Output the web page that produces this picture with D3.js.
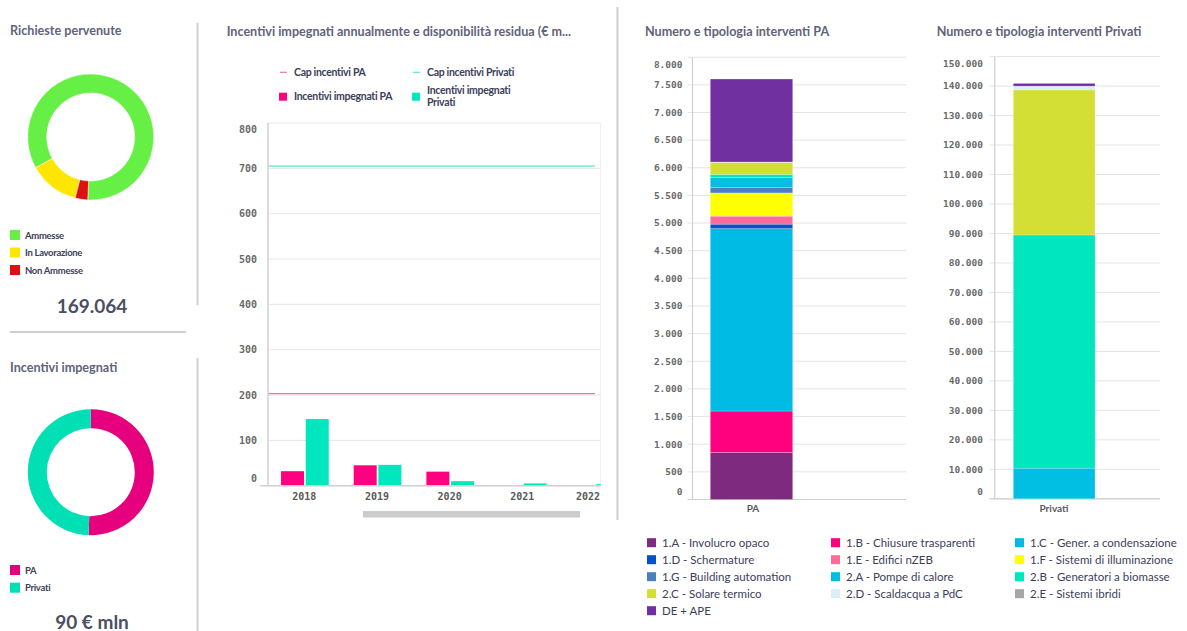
<!DOCTYPE html>
<html><head><meta charset="utf-8">
<script src="https://cdn.jsdelivr.net/npm/d3@7"></script>
<style>
html,body{margin:0;padding:0;background:#fff;}
text{font-family:Lato,"Open Sans",sans-serif;}
.mono{font-family:"DejaVu Sans Mono",monospace;font-weight:bold;}
</style></head>
<body><svg id="c" width="1187" height="631"></svg>
<script>
// ---------- DATA ----------
const richiesteLabels = ["Ammesse", "In Lavorazione", "Non Ammesse"];
const richiesteValues = [141800, 21850, 5414];
const richiesteTotal = "169.064";

const incentiviLabels = ["PA", "Privati"];
const incentiviValues = [45.5, 44.5];
const incentiviTotal = "90 € mln";

const years = ["2018", "2019", "2020", "2021", "2022"];
const impegnatiPA = [32, 45, 31, 0.6, 0.4];
const impegnatiPrivati = [147, 46, 10, 5, 3.5];
const capPA = 203;
const capPrivati = 705;
const yTicksAnnual = [0, 100, 200, 300, 400, 500, 600, 700, 800];

const tipologie = ["1.A - Involucro opaco", "1.B - Chiusure trasparenti", "1.C - Gener. a condensazione",
  "1.D - Schermature", "1.E - Edifici nZEB", "1.F - Sistemi di illuminazione",
  "1.G - Building automation", "2.A - Pompe di calore", "2.B - Generatori a biomasse",
  "2.C - Solare termico", "2.D - Scaldacqua a PdC", "2.E - Sistemi ibridi", "DE + APE"];
const interventiPA = [850, 750, 3300, 80, 145, 420, 100, 180, 55, 215, 5, 5, 1500];
const interventiPrivati = [0, 0, 0, 0, 0, 0, 0, 10400, 79100, 49200, 1250, 50, 900];
const tipColors = ["#7e2a7e", "#ff007f", "#00bce4", "#0052c8", "#ff6b9b", "#ffff00",
  "#4a80c0", "#00bfe3", "#00e6be", "#d4df35", "#d8eef8", "#a6a6a6", "#7030a0"];

// ---------- SETUP ----------
const svg = d3.select("#c");
svg.append("rect").attr("width", 1187).attr("height", 631).attr("fill", "#fff");
const titleColor = "#5f6378", txtColor = "#3c4059", sepColor = "#cfcfcf";
function title(x, y, t) {
  svg.append("text").attr("x", x).attr("y", y).text(t)
    .attr("font-size", 12.6).attr("font-weight", 700).attr("fill", titleColor);
}
function sep(x1, y1, x2, y2) {
  svg.append("line").attr("x1", x1).attr("y1", y1).attr("x2", x2).attr("y2", y2)
    .attr("stroke", sepColor).attr("stroke-width", 2);
}
const fmt = v => d3.format(",")(v).replace(/,/g, ".");

// ---------- LEFT PANEL ----------
title(10, 35, "Richieste pervenute");
const richColors = ["#66f046", "#ffe600", "#dd1111"];
const richColorScale = d3.scaleOrdinal().domain(richiesteLabels).range(richColors);
const deg = Math.PI / 180;
const pie1 = d3.pie().sort(null).startAngle(182.7 * deg).endAngle(182.7 * deg - 2 * Math.PI);
const arc = d3.arc().innerRadius(44).outerRadius(63);
const g1 = svg.append("g").attr("transform", "translate(90.7,137)");
g1.selectAll("path").data(pie1(richiesteValues)).join("path")
  .attr("d", arc).attr("fill", (d, i) => richColorScale(richiesteLabels[i]))
  .attr("stroke", "#fff").attr("stroke-width", 0.5);
richiesteLabels.forEach((l, i) => {
  const y = 230 + i * 17.5;
  svg.append("rect").attr("x", 10).attr("y", y).attr("width", 10).attr("height", 10).attr("fill", richColorScale(l));
  svg.append("text").attr("x", 25).attr("y", y + 8.5).text(l).attr("font-size", 9.5)
    .attr("font-weight", 700).attr("fill", txtColor).attr("letter-spacing", -0.3);
});
svg.append("text").attr("x", 92).attr("y", 313).attr("text-anchor", "middle").text(richiesteTotal)
  .attr("font-size", 19).attr("font-weight", 700).attr("fill", "#4a4f62");
sep(10, 332, 186, 332);
sep(197.5, 23, 197.5, 305);
sep(197.5, 358, 197.5, 631);

title(10, 372, "Incentivi impegnati");
const incColorScale = d3.scaleOrdinal().domain(incentiviLabels).range(["#e6007e", "#00e0b4"]);
const pie2 = d3.pie().sort(null);
const g2 = svg.append("g").attr("transform", "translate(90.8,472.2)");
g2.selectAll("path").data(pie2(incentiviValues)).join("path")
  .attr("d", arc).attr("fill", (d, i) => incColorScale(incentiviLabels[i]));
incentiviLabels.forEach((l, i) => {
  const y = 565 + i * 17.7;
  svg.append("rect").attr("x", 10).attr("y", y).attr("width", 10).attr("height", 10).attr("fill", incColorScale(l));
  svg.append("text").attr("x", 25).attr("y", y + 8.5).text(l).attr("font-size", 9.5)
    .attr("font-weight", 700).attr("fill", txtColor).attr("letter-spacing", -0.3);
});
svg.append("text").attr("x", 92).attr("y", 628.5).attr("text-anchor", "middle").text(incentiviTotal)
  .attr("font-size", 19).attr("font-weight", 700).attr("fill", "#4a4f62");

// ---------- MIDDLE CHART ----------
title(226.7, 36, "Incentivi impegnati annualmente e disponibilità residua (€ m...");
const colPA = "#ff0080", colPriv = "#00e6be", colCapPA = "#f472ad", colCapPriv = "#5ae6cc";
// legend
function legLine(x, y, c, t) {
  svg.append("line").attr("x1", x).attr("x2", x + 7).attr("y1", y).attr("y2", y).attr("stroke", c).attr("stroke-width", 1.2);
  svg.append("text").attr("x", x + 14).attr("y", y + 3.5).text(t).attr("font-size", 10.5).attr("font-weight", 700)
    .attr("fill", txtColor).attr("letter-spacing", -0.3);
}
function legSq(x, y, c, lines) {
  svg.append("rect").attr("x", x).attr("y", y - 4).attr("width", 8).attr("height", 8).attr("fill", c);
  lines.forEach((t, i) => {
    svg.append("text").attr("x", x + 15).attr("y", y + 3.5 + (i - (lines.length - 1) / 2) * 11.5).text(t)
      .attr("font-size", 10.5).attr("font-weight", 700).attr("fill", txtColor).attr("letter-spacing", -0.3);
  });
}
legLine(280, 72.3, colCapPA, "Cap incentivi PA");
legLine(413, 72.3, colCapPriv, "Cap incentivi Privati");
legSq(279, 96.7, colPA, ["Incentivi impegnati PA"]);
legSq(412, 96.7, colPriv, ["Incentivi impegnati", "Privati"]);

const mL = 268, mR = 600.5, mT = 123, mB = 485.7;
const xM = d3.scaleBand().domain(years).range([mL, mL + 72.66 * years.length]).padding(0);
const yM = d3.scaleLinear().domain([0, 800]).range([mB, mT]);
svg.append("defs").append("clipPath").attr("id", "clipM").append("rect")
  .attr("x", mL).attr("y", mT - 5).attr("width", mR - mL).attr("height", mB - mT + 10);
const gM = svg.append("g");
gM.selectAll("line.grid").data(yTicksAnnual).join("line").attr("class", "grid")
  .attr("x1", mL).attr("x2", mR).attr("y1", d => yM(d)).attr("y2", d => yM(d))
  .attr("stroke", "#e6e6e6").attr("stroke-width", 1);
gM.append("line").attr("x1", mR).attr("x2", mR).attr("y1", mT).attr("y2", mB).attr("stroke", "#f0f0f0");
const bars = gM.append("g").attr("clip-path", "url(#clipM)");
const bw = 23;
bars.selectAll("rect.pa").data(years).join("rect").attr("class", "pa")
  .attr("x", d => xM(d) + xM.bandwidth() / 2 - bw - 0.3).attr("width", bw)
  .attr("y", (d, i) => yM(impegnatiPA[i])).attr("height", (d, i) => yM(0) - yM(impegnatiPA[i]))
  .attr("fill", colPA);
bars.selectAll("rect.pr").data(years).join("rect").attr("class", "pr")
  .attr("x", d => xM(d) + xM.bandwidth() / 2 + 1.4).attr("width", bw)
  .attr("y", (d, i) => yM(impegnatiPrivati[i])).attr("height", (d, i) => yM(0) - yM(impegnatiPrivati[i]))
  .attr("fill", colPriv);
gM.append("line").attr("x1", mL).attr("x2", 595).attr("y1", yM(capPA)).attr("y2", yM(capPA))
  .attr("stroke", colCapPA).attr("stroke-width", 1.3);
gM.append("line").attr("x1", mL).attr("x2", 595).attr("y1", yM(capPrivati)).attr("y2", yM(capPrivati))
  .attr("stroke", colCapPriv).attr("stroke-width", 1.3);
gM.append("line").attr("x1", mL).attr("x2", mL).attr("y1", mT).attr("y2", mB).attr("stroke", "#d0d0d0").attr("stroke-width", 1.5);
gM.append("line").attr("x1", 260).attr("x2", mR).attr("y1", mB).attr("y2", mB).attr("stroke", "#d0d0d0").attr("stroke-width", 1.5);
gM.selectAll("text.yl").data(yTicksAnnual).join("text").attr("class", "yl mono")
  .attr("x", 257).attr("text-anchor", "end")
  .attr("y", d => yM(d) + 3.5 + (d === 800 ? 6 : d === 0 ? -7 : 0))
  .text(d => d).attr("font-size", 10).attr("fill", "#6a6a6a");
gM.selectAll("text.xl").data(years).join("text").attr("class", "xl mono")
  .attr("x", d => Math.min(xM(d) + xM.bandwidth() / 2, mR - 12.5)).attr("y", 500)
  .attr("text-anchor", "middle").text(d => d).attr("font-size", 10).attr("fill", "#5a5a5a");
// scrollbar
svg.append("rect").attr("x", 363).attr("y", 511).attr("width", 217).attr("height", 6.5).attr("fill", "#cccccc");

sep(617.5, 7, 617.5, 520);

// ---------- STACKED CHARTS ----------
function stacked(opts) {
  const { x0, xAxis, xRight, yTop, yBot, max, step, values, barX, barW, label, labelX, titleX, titleText } = opts;
  title(titleX, 36, titleText);
  const y = d3.scaleLinear().domain([0, max]).range([yBot, yTop]);
  const ticks = d3.range(0, max + step / 2, step);
  const g = svg.append("g");
  g.selectAll("line.grid").data(ticks).join("line")
    .attr("x1", xAxis - 5).attr("x2", xRight).attr("y1", d => y(d)).attr("y2", d => y(d))
    .attr("stroke", "#e4e4e4");
  g.append("line").attr("x1", xAxis).attr("x2", xAxis).attr("y1", yTop).attr("y2", yBot).attr("stroke", "#d0d0d0").attr("stroke-width", 1.2);
  g.append("line").attr("x1", xAxis - 5).attr("x2", xRight).attr("y1", yBot).attr("y2", yBot).attr("stroke", "#d0d0d0").attr("stroke-width", 1.2);
  g.selectAll("text.yl").data(ticks).join("text").attr("class", "mono")
    .attr("x", x0).attr("text-anchor", "end")
    .attr("y", d => y(d) + 3.3 + (d === max ? 7 : d === 0 ? -7.5 : 0))
    .text(d => fmt(d)).attr("font-size", 9.5).attr("fill", "#6a6a6a");
  let cum = 0;
  const segs = values.map((v, i) => { const s = { y0: cum, y1: cum + v, c: tipColors[i] }; cum += v; return s; });
  g.selectAll("rect.seg").data(segs.filter(s => s.y1 > s.y0)).join("rect")
    .attr("x", barX).attr("width", barW)
    .attr("y", d => y(d.y1)).attr("height", d => y(d.y0) - y(d.y1))
    .attr("fill", d => d.c).attr("stroke", "rgba(255,255,255,0.35)").attr("stroke-width", 0.6);
  g.append("text").attr("x", labelX).attr("y", 512).attr("text-anchor", "middle").text(label)
    .attr("font-size", 10).attr("font-weight", 700).attr("fill", "#5a5a5a");
}
stacked({ x0: 682.5, xAxis: 692.5, xRight: 906, yTop: 57.2, yBot: 499.5, max: 8000, step: 500,
  values: interventiPA, barX: 710.3, barW: 82.4, label: "PA", labelX: 753,
  titleX: 645, titleText: "Numero e tipologia interventi PA" });
stacked({ x0: 983, xAxis: 994.7, xRight: 1160, yTop: 56.6, yBot: 498.8, max: 150000, step: 10000,
  values: interventiPrivati, barX: 1013.3, barW: 81.7, label: "Privati", labelX: 1054,
  titleX: 936.7, titleText: "Numero e tipologia interventi Privati" });

// ---------- BOTTOM LEGEND ----------
const colX = [647, 831, 1015];
tipologie.forEach((t, i) => {
  const cx = colX[i % 3], cy = 542.7 + Math.floor(i / 3) * 17;
  svg.append("rect").attr("x", cx).attr("y", cy - 4.5).attr("width", 9).attr("height", 9).attr("fill", tipColors[i]);
  svg.append("text").attr("x", cx + 15).attr("y", cy + 4).text(t).attr("font-size", 11.5)
    .attr("fill", txtColor);
});
</script></body></html>
